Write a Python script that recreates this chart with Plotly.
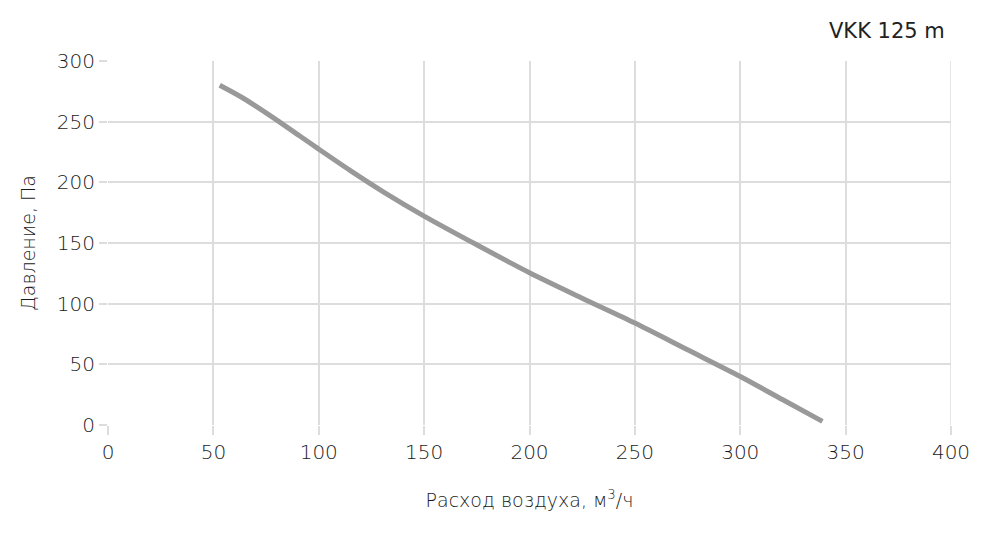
import plotly.graph_objects as go

airflow = [53, 64, 78, 91, 100, 115, 131, 150, 175, 200, 225, 250, 275, 300, 320, 339]
pressure = [280, 269.5, 253.8, 238.2, 227.4, 209.7, 191.8, 172.2, 148.5, 125.5, 104.5, 84, 62, 40, 21, 3]

x_ticks = [0, 50, 100, 150, 200, 250, 300, 350, 400]
y_ticks = [0, 50, 100, 150, 200, 250, 300]

FONT = "DejaVu Sans"
TXT = "#1a1a1a"
GRID = "#dddddd"

fig = go.Figure()
fig.add_trace(go.Scatter(
    x=airflow, y=pressure, mode="lines",
    line=dict(color="#999999", width=5, shape="spline", smoothing=0.8),
    hoverinfo="skip", showlegend=False,
))

fig.update_layout(
    width=984, height=537,
    margin=dict(l=108, r=33, t=61, b=112),
    paper_bgcolor="white", plot_bgcolor="white",
    font=dict(family=FONT, color=TXT, size=20, weight=200),
    showlegend=False,
    annotations=[dict(
        text="VKK 125 m", xref="paper", yref="paper", x=1.0, y=1.0,
        xanchor="right", yanchor="bottom", yshift=16, xshift=-4,
        showarrow=False, font=dict(family=FONT, size=21, color="#222222", weight=400),
    )],
)
fig.update_xaxes(
    range=[0, 400], tickvals=x_ticks, ticktext=[str(v) for v in x_ticks],
    showgrid=True, gridcolor=GRID, gridwidth=1.5,
    zeroline=False, showline=False,
    ticks="outside", ticklen=9, tickcolor=GRID, tickwidth=1.5,
    tickfont=dict(family=FONT, size=20, color=TXT, weight=200),
    title=dict(text="Расход воздуха, м<sup>3</sup>/ч",
               font=dict(family=FONT, size=19, color=TXT, weight=200), standoff=30),
)
fig.update_yaxes(
    range=[0, 300], tickvals=y_ticks, ticktext=[str(v) for v in y_ticks],
    showgrid=True, gridcolor=GRID, gridwidth=1.5,
    zeroline=False, showline=False,
    ticks="outside", ticklen=8, tickcolor=GRID, tickwidth=1.5,
    tickfont=dict(family=FONT, size=20, color=TXT, weight=200),
    title=dict(text="Давление, Па", font=dict(family=FONT, size=19, color=TXT, weight=200), standoff=16),
)
fig.add_shape(type="line", xref="x", yref="y", x0=400, x1=400, y0=0, y1=300,
              line=dict(color=GRID, width=1.5), layer="below")

fig.write_html("out.html", config={"displayModeBar": False},
               post_script="document.body.style.margin='0';window.dispatchEvent(new Event('resize'));")
